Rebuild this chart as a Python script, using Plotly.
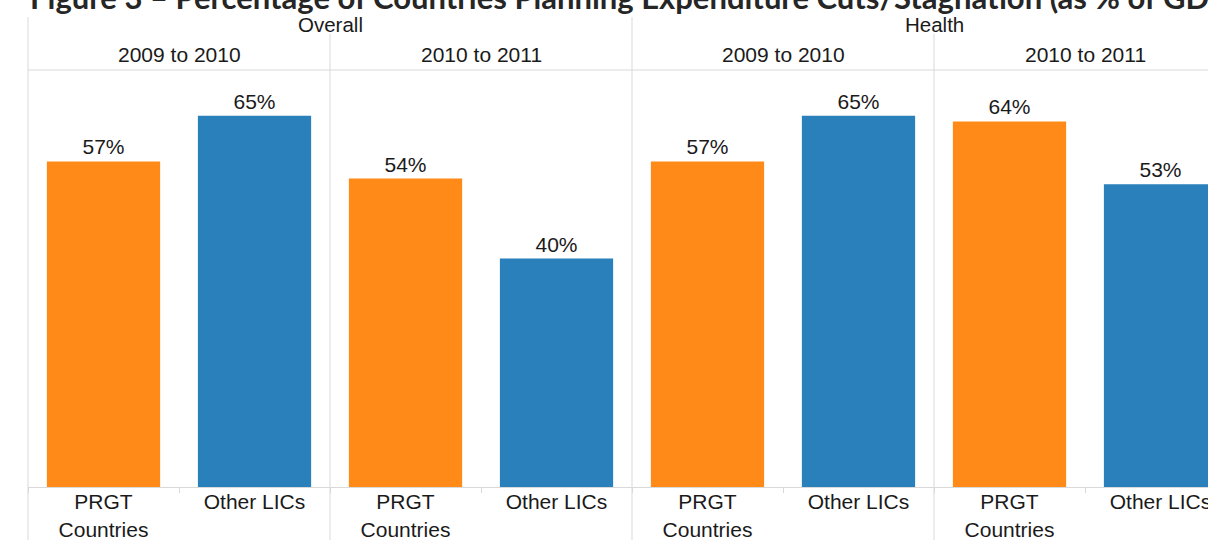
import plotly.graph_objects as go
from plotly.subplots import make_subplots

# Data
groups = ["Overall", "Health"]
periods = ["2009 to 2010", "2010 to 2011", "2009 to 2010", "2010 to 2011"]
categories = ["PRGT<br>Countries", "Other LICs"]
prgt = [57, 54, 57, 64]
other_lics = [65, 40, 65, 53]

orange = "#FF8A17"
blue = "#2A80BA"
line_col = "#D9D9D9"
txt_col = "#1A1A1A"
arial = "Liberation Sans, Arial"

fig_w, fig_h = 1208, 540
m_l, m_t, m_b = 28, 70, 53

fig = make_subplots(rows=1, cols=4, shared_yaxes=True, horizontal_spacing=0)

for i in range(4):
    fig.add_trace(go.Bar(
        x=categories,
        y=[prgt[i], other_lics[i]],
        marker=dict(color=[orange, blue], line_width=0),
        texttemplate="%{y}%",
        textposition="outside",
        textfont=dict(size=21, color=txt_col, family=arial),
        cliponaxis=False,
        showlegend=False,
    ), row=1, col=i + 1)

# panel widths: 302 px each, the last one is cut by the page edge
plot_w = fig_w - m_l
pw = 302 / plot_w
domains = [[0, pw], [pw, 2 * pw], [2 * pw, 3 * pw], [3 * pw, 1]]
last_range = -0.5 + 2 * (plot_w - 3 * 302) / 302

for i in range(4):
    ax = "xaxis" if i == 0 else f"xaxis{i + 1}"
    fig.layout[ax].update(
        domain=domains[i],
        range=[-0.5, 1.5] if i < 3 else [-0.5, last_range],
        showline=True, linecolor=line_col, linewidth=1,
        ticks="outside", tickson="boundaries", ticklen=5, tickcolor=line_col,
        ticklabelstandoff=-4,
        showgrid=False, zeroline=False, automargin=False,
        tickfont=dict(size=21, color=txt_col, family=arial),
    )

fig.update_yaxes(range=[0, 73], visible=False, showgrid=False)

# separators
shapes = []
for i in range(4):
    xr = "x domain" if i == 0 else f"x{i + 1} domain"
    top = 1.127 if i % 2 == 0 else 1.087
    shapes.append(dict(type="line", xref=xr, yref="paper", x0=0, x1=0,
                       y0=-0.13, y1=top, line=dict(color=line_col, width=1)))
shapes.append(dict(type="line", xref="paper", yref="paper", x0=0, x1=1,
                   y0=1, y1=1, line=dict(color=line_col, width=1)))

annotations = []
for i in range(4):
    xr = "x" if i == 0 else f"x{i + 1}"
    annotations.append(dict(text=periods[i], xref=xr, yref="paper", x=0.5, y=1.036,
                            showarrow=False, yanchor="middle",
                            font=dict(size=21, color=txt_col, family=arial)))
for j, g in enumerate(groups):
    xr = "x2" if j == 0 else "x4"
    annotations.append(dict(text=g, xref=xr, yref="paper", x=-0.5, y=1.110,
                            showarrow=False, yanchor="middle",
                            font=dict(size=20.5, color=txt_col, family=arial)))

annotations.append(dict(
    text="<b>Figure 3 \u2013 Percentage of Countries Planning Expenditure Cuts/Stagnation (as % of GDP)</b>",
    xref="paper", yref="paper", x=0, y=1.176, xanchor="left", yanchor="middle",
    showarrow=False, font=dict(size=31, color="#262626", family="Lato"),
))

fig.update_layout(
    width=fig_w, height=fig_h,
    margin=dict(l=m_l, r=0, t=m_t, b=m_b, autoexpand=False),
    paper_bgcolor="white", plot_bgcolor="white",
    bargap=0.25,
    shapes=shapes,
    annotations=annotations,
)

# drop the default page margin so the figure fills the window
fig.write_html("out.html", config={"displayModeBar": False}, post_script=(
    "document.body.style.margin='0';"
    "document.body.style.overflow='hidden';"
    "document.documentElement.style.overflow='hidden';"
))
